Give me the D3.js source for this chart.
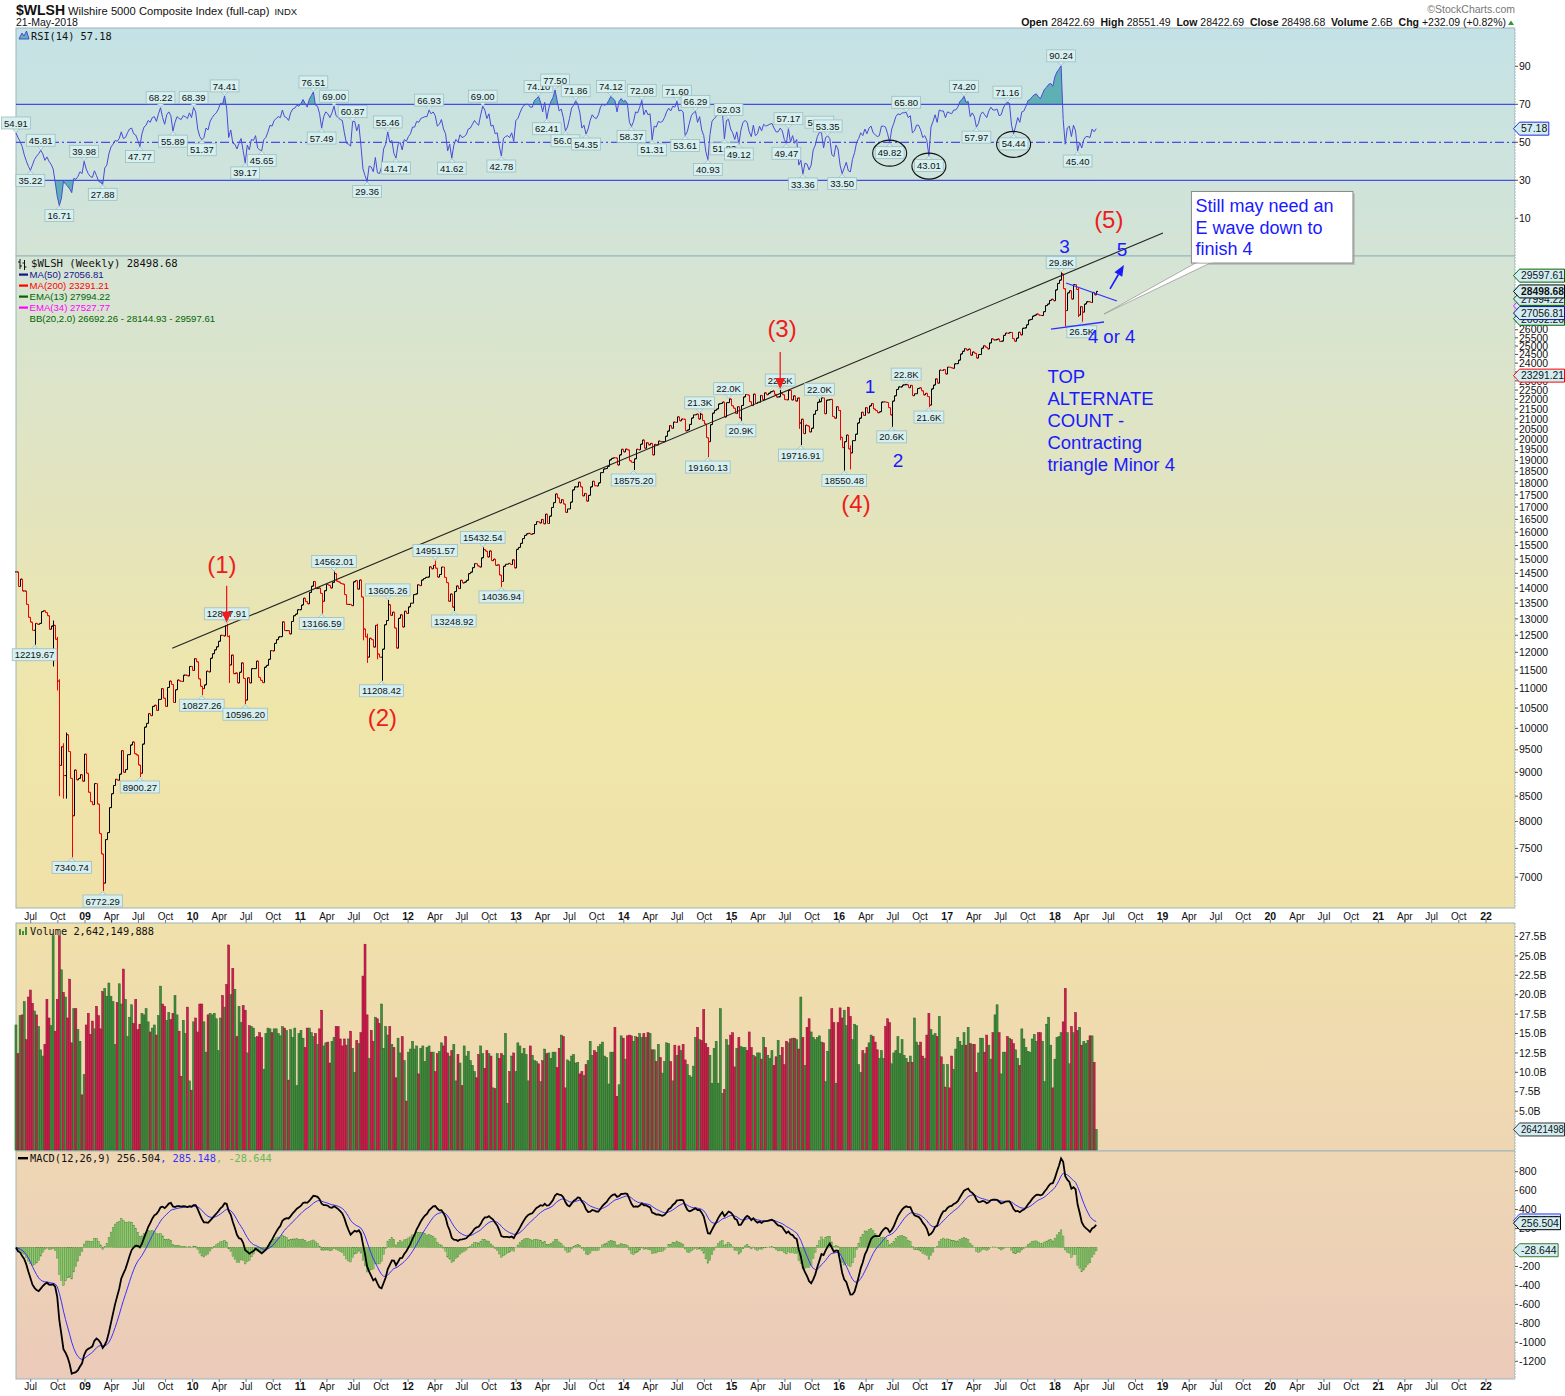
<!DOCTYPE html>
<html>
<head>
<meta charset="utf-8">
<script src="https://cdn.jsdelivr.net/npm/d3@7"></script>
<style>
  body { margin: 0; background: #fff; }
  svg { display: block; }
</style>
</head>
<body>
<svg id="chart"></svg>
<script>
// ---------- data (weekly, first bar = week of 12-May-2008) ----------
const startWeek = Date.UTC(2008, 4, 12);

// weekly closes, Wilshire 5000 full-cap
const closes = [
  14550, 14050, 14300, 13900, 13900, 13460, 13050, 12900, 12650, 12860,
  12830, 12860, 13230, 13260, 13200, 13100, 12680, 12780, 12800, 12380,
  11200, 9150, 9570, 8930, 9850, 9460, 8870, 8110, 9050, 8840,
  8870, 8950, 8810, 9400, 8980, 8580, 8390, 8330, 8760, 8340,
  7770, 7400, 6900, 7660, 7790, 8270, 8550, 8720, 8850, 8830,
  8960, 9480, 9000, 9060, 9390, 9610, 9680, 9410, 9380, 9160,
  8980, 9630, 10030, 10120, 10360, 10310, 10540, 10570, 10440, 10720,
  11000, 10750, 10540, 11030, 11200, 11110, 10640, 10970, 11230, 11200,
  11190, 11360, 11360, 11340, 11600, 11490, 11820, 11730, 11260, 11060,
  11000, 11100, 11470, 11450, 11830, 11960, 12070, 12160, 12320, 12500,
  12480, 12790, 12460, 11640, 11920, 11400, 11420, 11150, 11440, 11700,
  11270, 10700, 11290, 11150, 11540, 11540, 11750, 11300, 11220, 11160,
  11580, 11630, 11800, 12050, 12040, 12260, 12370, 12450, 12460, 12910,
  12640, 12640, 12540, 12920, 13100, 13150, 13290, 13290, 13440, 13660,
  13550, 13480, 13850, 14060, 14220, 13980, 14000, 13820, 13560, 13910,
  14120, 14090, 14000, 14190, 14490, 14230, 14200, 14150, 14130, 13780,
  13460, 13460, 13420, 14210, 14250, 13960, 14270, 13700, 12690, 12450,
  11860, 12410, 12370, 12150, 12800, 11950, 11860, 12090, 12820, 12950,
  13450, 13110, 13210, 12720, 12120, 13020, 13130, 12750, 13240, 13170,
  13380, 13500, 13780, 13800, 14110, 14080, 14270, 14320, 14360, 14370,
  14730, 14660, 14780, 14680, 14370, 14460, 14720, 14360, 14180, 13560,
  13800, 13370, 13880, 14070, 13980, 14260, 14170, 14200, 14260, 14490,
  14540, 14700, 14840, 14760, 14720, 15050, 15350, 15290, 15080, 15300,
  14950, 15000, 14780, 14800, 14440, 14220, 14750, 14820, 14850, 14810,
  14980, 14690, 15360, 15430, 15580, 15760, 15880, 15940, 15960, 15920,
  15950, 16300, 16410, 16360, 16500, 16330, 16710, 16340, 16630, 16980,
  17180, 17540, 17370, 17170, 17300, 17120, 16780, 16920, 17200, 17710,
  17840, 17840, 18040, 17840, 17460, 17560, 17240, 17480, 17840, 18080,
  17890, 17880, 18010, 18460, 18620, 18640, 18740, 19030, 19100, 19130,
  19120, 18800, 19260, 19520, 19400, 19530, 19490, 18990, 18920, 19080,
  19520, 19500, 19760, 19960, 19570, 19830, 19730, 19800, 19260, 19750,
  19720, 19910, 19880, 19880, 20140, 20390, 20660, 20530, 20840, 20820,
  21100, 20900, 20990, 20980, 20400, 20450, 20720, 21040, 21200, 21240,
  20990, 21230, 20910, 20740, 20070, 19880, 20710, 21290, 21430, 21500,
  21760, 21790, 21860, 21090, 21830, 22020, 21670, 21540, 21270, 21620,
  21040, 21680, 22130, 22260, 22230, 21880, 21680, 22280, 21790, 21850,
  22210, 21980, 22350, 22250, 22330, 22410, 22450, 22270, 22120, 22140,
  22330, 22250, 21990, 21980, 22480, 21970, 22190, 21910, 22070, 20790,
  20980, 20270, 20680, 20640, 20350, 20530, 21230, 21420, 21850, 21880,
  22080, 21260, 21960, 21980, 22000, 21120, 21030, 21620, 21420, 20090,
  19600, 19880, 20200, 19540, 19350, 19930, 20240, 20790, 21030, 21330,
  21170, 21570, 21300, 21660, 21780, 21500, 21420, 21310, 21360, 21860,
  21870, 21840, 21570, 21200, 21910, 22190, 22530, 22670, 22670, 22770,
  22790, 22790, 22630, 22750, 22200, 22300, 22580, 22620, 22460, 22240,
  22320, 22150, 21700, 22560, 22770, 23110, 22870, 23600, 23580, 23630,
  23380, 23770, 23740, 23700, 23960, 23970, 24170, 24530, 24690, 24850,
  24760, 24820, 24460, 24650, 24570, 24290, 24500, 24870, 25020, 24930,
  24830, 25190, 25440, 25370, 25380, 25430, 25280, 25300, 25650, 25790,
  25780, 25830, 25450, 25290, 25480, 25840, 25680, 26090, 26110, 26310,
  26610, 26650, 26860, 26920, 27000, 26930, 26900, 27150, 27550, 27650,
  27890, 27970, 27870, 28600, 29050, 29280, 29720, 28680, 27220, 28400,
  28550, 27980, 28970, 28630, 26930, 27480, 27120, 27650, 27800, 27810,
  27750, 28430, 28270, 28500
];

// weekly volume, billions of shares
const volumes = [
  16.1, 12.4, 17.3, 17.4, 19.1, 14.2, 19.7, 20.6, 18.9, 17.9,
  17.4, 15.9, 12.9, 12.1, 13.6, 19.4, 17.0, 16.0, 27.6, 15.3,
  19.4, 27.6, 23.2, 20.3, 19.7, 17.0, 22.0, 13.8, 18.2, 18.2,
  15.5, 14.0, 7.1, 9.7, 16.1, 17.6, 14.9, 16.6, 15.6, 18.5,
  17.3, 15.6, 20.4, 20.8, 19.8, 21.5, 19.8, 19.1, 13.6, 19.0,
  21.4, 18.8, 23.3, 19.4, 14.6, 17.1, 18.7, 16.3, 19.4, 15.5,
  16.2, 17.6, 17.4, 18.2, 16.5, 15.2, 15.7, 16.1, 14.8, 17.3,
  21.1, 18.8, 18.5, 16.7, 17.7, 16.8, 17.6, 19.9, 17.4, 15.3,
  9.5, 16.7, 15.0, 18.4, 8.9, 7.7, 16.5, 17.0, 15.2, 18.8,
  18.8, 16.5, 12.6, 17.4, 17.6, 17.4, 17.6, 16.9, 12.8, 17.0,
  19.9, 18.4, 21.3, 26.4, 20.0, 23.4, 20.7, 14.6, 18.5, 16.4,
  18.6, 18.0, 12.5, 16.0, 15.9, 15.7, 14.5, 14.6, 15.1, 14.5,
  10.4, 15.0, 15.7, 15.6, 15.1, 15.6, 15.6, 15.0, 14.7, 15.9,
  15.7, 15.4, 9.0, 15.5, 14.5, 15.7, 8.3, 15.0, 15.4, 14.4,
  13.2, 15.7, 15.7, 15.1, 14.6, 15.0, 13.6, 15.6, 18.0, 13.4,
  13.8, 13.9, 11.2, 14.0, 14.5, 15.9, 15.9, 14.3, 13.4, 14.3,
  13.5, 14.3, 15.3, 13.1, 10.0, 14.1, 13.7, 15.1, 22.4, 26.5,
  17.4, 11.8, 15.4, 14.0, 17.1, 16.9, 16.3, 18.8, 13.1, 15.9,
  14.8, 15.9, 13.6, 13.2, 9.3, 14.4, 12.5, 14.6, 11.5, 6.3,
  12.6, 13.0, 14.0, 13.0, 13.4, 9.8, 13.1, 13.4, 11.4, 13.2,
  13.4, 12.6, 12.6, 10.1, 12.4, 12.7, 13.8, 13.4, 14.6, 12.5,
  12.1, 12.8, 13.6, 8.9, 12.3, 11.2, 8.3, 13.4, 12.1, 12.7,
  11.5, 10.9, 10.1, 9.3, 12.3, 13.4, 12.4, 10.5, 12.8, 12.4,
  12.1, 8.0, 7.9, 12.4, 11.8, 12.4, 12.2, 15.0, 6.0, 10.1,
  12.1, 12.5, 10.1, 13.8, 13.4, 12.4, 13.1, 12.3, 8.9, 13.4,
  12.2, 11.5, 11.4, 11.1,
  8.8, 11.5, 13.0, 12.4, 12.5, 11.8, 12.6, 12.6, 10.6, 13.1,
  14.8, 14.6, 8.0, 11.6, 11.4, 12.1, 12.3, 11.2, 11.3, 9.8,
  10.1, 9.6, 11.0, 11.5, 14.0, 12.2, 12.8, 12.6, 13.3, 13.6,
  13.9, 12.1, 11.9, 8.5, 12.6, 12.6, 15.8, 6.9, 8.4, 14.7,
  14.4, 11.7, 14.7, 14.8, 14.7, 14.0, 14.6, 14.5, 15.0, 14.5,
  15.0, 14.5, 15.1, 15.0, 12.9, 12.9, 11.4, 13.6, 11.9, 9.9,
  11.4, 13.8, 13.7, 11.4, 8.9, 13.5, 12.2, 13.4, 12.8, 13.6,
  11.6, 11.0, 9.6, 9.4, 10.8, 14.5, 15.8, 14.2, 14.1, 18.1,
  13.7, 13.2, 12.2, 8.6, 13.1, 14.0, 8.6, 18.2, 7.3, 7.8,
  14.2, 13.5, 14.8, 15.1, 10.7, 13.1, 14.5, 13.3, 13.2, 13.2,
  12.8, 15.2, 13.2, 12.2, 12.0, 12.5, 12.5, 11.7, 14.5, 13.2,
  12.2, 11.8, 12.8, 10.9, 12.0, 14.1, 12.2, 13.2, 11.0, 14.0,
  13.8, 14.3, 14.4, 14.4, 14.2, 13.0, 19.7, 14.5, 10.9, 15.8,
  16.9, 15.2, 14.5, 14.2, 14.5, 14.7, 13.9, 13.8, 8.8, 12.7,
  15.5, 18.2, 16.4, 8.6, 16.4, 18.3, 17.0, 18.0, 16.0, 18.4,
  17.2, 14.2, 16.2, 16.0, 11.0, 10.0, 12.8, 12.4, 13.2, 13.8,
  14.8, 14.6, 13.9, 12.9, 11.8, 12.8, 11.8, 15.9, 16.9, 16.4,
  11.1, 12.5, 12.8, 14.6, 12.4, 14.2, 12.2, 11.8, 11.3, 12.1,
  11.3, 17.0, 13.9, 13.5, 13.9, 12.1, 11.8, 14.8, 17.6, 15.5,
  14.8, 15.0, 14.6, 17.2, 12.0, 11.0, 8.1, 11.0, 8.0, 12.1,
  10.4, 13.0, 14.5, 14.0, 13.5, 15.1, 13.5, 15.8, 13.7, 13.6,
  13.6, 10.0, 12.5, 14.4, 14.4, 12.6, 14.8, 13.5, 11.7, 15.1,
  17.4, 18.7, 15.1, 9.8, 12.6, 12.6, 14.6, 14.4, 14.2, 13.7,
  12.9, 11.8, 10.9, 15.6, 14.3, 13.2, 12.7, 12.6, 14.3, 14.9,
  14.0, 15.1, 15.1, 14.0, 8.8, 16.2, 17.1, 13.5, 8.0, 11.7,
  14.5, 14.6, 15.1, 16.5, 20.8, 15.1, 11.1, 15.9, 15.1, 17.7,
  15.4, 15.8, 13.5, 14.0, 13.7, 14.1, 14.7, 14.7, 11.3, 2.64
];

// weekly RSI(14)
const rsi = [
  54.91, 52.5, 50.4, 47.8, 43.5, 40.2, 37.4, 35.22, 38.1, 41.0,
  42.7, 44.0, 45.81, 43.9, 40.5, 42.3, 40.0, 38.4, 36.0, 29.0,
  21.5, 16.71, 20.5, 29.5, 28.0, 27.0, 25.5, 23.5, 31.0, 30.5,
  32.0, 34.5, 33.5, 39.98, 36.0, 33.5, 32.0, 31.5, 35.0, 32.5,
  29.5, 28.8, 27.88, 36.5, 38.0, 44.0, 47.5, 49.0, 51.0, 50.5,
  52.0, 55.5, 52.0, 52.5, 55.0, 57.0, 57.5, 54.5, 53.8, 51.0,
  47.77, 54.5, 58.0, 59.0, 61.5, 60.5, 63.0, 63.5, 61.0, 65.0,
  68.22, 63.0, 59.5, 64.5, 66.0, 64.0, 55.89, 60.5, 63.5, 62.5,
  62.0, 64.0, 63.5, 62.5, 65.5, 63.0, 68.39, 66.0, 57.0, 53.0,
  51.37, 52.5, 57.5, 56.5, 61.0, 63.0, 64.5, 65.5, 67.5, 70.5,
  70.0, 74.41, 68.0, 52.5, 56.5, 49.5, 49.0, 46.5, 49.5, 52.0,
  45.5, 39.17, 48.5, 46.0, 51.5, 51.0, 53.5, 47.0, 46.0, 45.65,
  51.5, 52.5, 55.5, 59.0, 58.5, 61.5, 62.5, 63.5, 63.0, 67.0,
  63.5, 63.0, 61.5, 65.5, 67.5, 68.0, 69.5, 69.0, 70.5, 72.5,
  70.5, 68.5, 72.5, 74.5, 76.51, 69.5, 69.0, 65.0, 57.49, 63.5,
  66.0, 65.0, 63.0, 65.5, 69.00, 64.0, 63.0, 62.0, 61.5, 55.0,
  49.5, 49.0, 48.0, 60.87, 61.0, 56.0, 59.5, 48.5, 36.0, 32.5,
  29.36, 37.5, 37.0, 34.5, 42.0, 34.0, 33.5, 37.0, 46.5, 49.0,
  55.46, 50.0, 51.0, 44.0, 41.74, 49.0, 50.0, 46.0, 51.5, 50.5,
  53.0, 54.5, 58.0, 58.0, 61.0, 60.5, 62.5, 63.0, 63.5, 63.5,
  66.93, 65.0, 66.0, 64.0, 58.5, 59.5, 62.0, 57.0, 54.5, 45.5,
  49.0, 41.62, 48.5, 51.5, 50.0, 54.0, 52.5, 53.0, 54.0, 57.0,
  57.5, 59.5, 61.5, 60.0, 59.0, 64.5, 69.00, 67.0, 62.5, 65.0,
  58.5, 59.0, 54.5, 55.0, 48.0, 42.78, 52.0, 53.0, 53.5, 52.5,
  55.0, 50.5, 61.5, 62.5, 65.5, 68.0, 69.5, 70.0, 70.0, 68.5,
  68.5, 72.0, 73.0, 74.10, 71.0, 66.0, 71.0, 62.41, 68.0, 71.5,
  73.5, 77.50, 72.0, 66.5, 67.5, 63.0, 56.07, 58.0, 62.5, 68.0,
  69.5, 71.86, 70.0, 65.5, 57.5, 59.0, 54.35, 57.0, 61.5, 64.5,
  63.0, 62.5, 64.5, 68.5, 70.0, 69.5, 70.0, 72.0, 74.12, 73.0,
  72.0, 66.0, 71.5, 73.0, 71.5, 72.0, 70.5, 60.5, 58.37, 61.0,
  66.0, 65.5, 68.5, 72.08, 64.5, 67.0, 64.5, 65.0, 51.31, 58.5,
  58.0, 61.0, 60.5, 61.0, 63.0, 66.0, 68.0, 66.5, 69.0, 68.5,
  71.60, 66.5, 67.0, 66.0, 53.61, 55.5, 60.0, 64.0, 65.5, 66.29,
  60.5, 63.5, 56.5, 53.5, 45.0, 40.93, 54.0, 61.0, 62.5, 63.5,
  65.0, 65.0, 66.0, 51.83, 61.5, 62.03, 57.0, 55.0, 51.5, 55.5,
  49.12, 56.5, 60.5, 61.5, 60.5, 55.5, 53.0, 59.0, 53.5, 54.5,
  58.5, 56.0, 59.5, 58.5, 59.0, 59.5, 60.0, 57.5, 55.5, 55.5,
  57.5, 56.0, 51.5, 49.47, 57.17, 50.0, 53.5, 49.5, 51.5, 38.0,
  40.5, 33.36, 39.0, 38.5, 35.5, 38.0, 46.0, 48.5, 53.0, 55.31,
  55.0, 47.0, 52.5, 53.35, 52.0, 43.5, 42.5, 48.5, 46.5, 38.0,
  33.50, 36.5, 39.5, 35.0, 34.5, 41.0, 44.5, 50.0, 52.0, 55.0,
  53.5, 57.0, 54.5, 57.5, 58.5, 55.0, 54.0, 53.0, 53.5, 58.5,
  58.5, 58.0, 54.5, 49.82, 57.0, 60.0, 63.5, 65.0, 64.5, 65.5,
  65.5, 65.80, 63.0, 64.0, 55.0, 56.0, 59.0, 59.0, 56.5, 52.5,
  53.5, 51.0, 43.01, 58.0, 61.0, 64.5, 60.5, 67.0, 66.5, 66.5,
  63.0, 66.0, 65.5, 65.0, 67.0, 67.0, 68.5, 71.5, 72.5, 74.20,
  71.0, 71.5, 63.5, 65.5, 63.5, 57.97, 60.0, 64.5, 66.0, 64.5,
  63.0, 66.5, 68.5, 67.0, 67.0, 67.5, 64.0, 64.5, 68.0, 70.0,
  71.16, 70.5, 59.0, 54.44, 58.5, 63.0, 60.5, 66.0, 66.5, 69.0,
  72.0, 72.5, 74.0, 75.0, 75.5, 74.0, 73.0, 75.5, 78.0, 79.0,
  80.5, 81.0, 79.5, 84.5, 87.0, 88.5, 90.24, 62.0, 49.0, 57.5,
  58.5, 53.0, 59.0, 56.0, 45.40, 50.0, 47.0, 51.5, 53.0, 53.0,
  52.5, 57.0, 55.5, 57.18
];

// labelled price extremes: [week, value, side, text]
const pricePivots = [
  [9, 12219.67, "L"], [27, 7340.74, "L"], [42, 6772.29, "L"], [60, 8900.27, "L"],
  [90, 10827.26, "L"], [102, 12847.91, "H"], [111, 10596.20, "L"], [148, 13166.59, "L"],
  [154, 14562.01, "H"], [177, 11208.42, "L"], [180, 13605.26, "H"], [203, 14951.57, "H"],
  [212, 13248.92, "L"], [226, 15432.54, "H"], [235, 14036.94, "L"], [299, 18575.20, "L"],
  [331, 21300, "H", "21.3K"], [335, 19160.13, "L"], [345, 22040, "H", "22.0K"],
  [351, 20900, "L", "20.9K"], [370, 22500, "H", "22.5K"], [380, 19716.91, "L"],
  [389, 22010, "H", "22.0K"], [401, 18550.48, "L"], [424, 20600, "L", "20.6K"],
  [431, 22820, "H", "22.8K"], [442, 21600, "L", "21.6K"], [506, 29830, "H", "29.8K"],
  [516, 26500, "L", "26.5K"]
];
// other long weekly ranges: [week, low, high]
const wicks = [
  [18, 11600, 12950], [20, 10950, 12450], [21, 8500, 11250], [23, 8450, 9650],
  [24, 8450, 9900], [103, 11150, 12500], [168, 12350, 13700], [170, 11700, 12550],
  [175, 11800, 12850], [379, 20500, 22100], [399, 19950, 21450], [404, 18600, 19700],
  [508, 26200, 28700], [514, 26800, 28750]
];

// labelled RSI extremes: [week, side]
const rsiPivots = [
  [0, "H"], [7, "L"], [12, "H"], [21, "L"], [33, "H"], [42, "L"], [60, "L"], [70, "H"],
  [76, "L"], [86, "H"], [90, "L"], [101, "H"], [111, "L"], [119, "L"], [144, "H"],
  [148, "L"], [154, "H"], [163, "H"], [170, "L"], [180, "H"], [184, "L"], [200, "H"],
  [211, "L"], [226, "H"], [235, "L"], [253, "H"], [257, "L"], [261, "H"], [266, "L"],
  [271, "H"], [276, "L"], [288, "H"], [298, "L"], [303, "H"], [308, "L"], [320, "H"],
  [324, "L"], [329, "H"], [335, "L"], [343, "L"], [345, "H"], [350, "L"], [373, "L"],
  [374, "H"], [381, "L"], [389, "H"], [393, "H"], [400, "L"], [423, "L"], [431, "H"],
  [442, "L"], [459, "H"], [465, "L"], [480, "H"], [483, "L"], [506, "H"], [514, "L"]
];
const rsiCircled = [423, 442, 483];

// axis tick labels
const rsiTicks = [10, 30, 50, 70, 90];
const priceTicks = d3.range(7000, 30001, 500);
const volTicks = [2.5, 5, 7.5, 10, 12.5, 15, 17.5, 20, 22.5, 25, 27.5];
const macdTicks = [-1200, -1000, -800, -600, -400, -200, 0, 200, 400, 600, 800];

// right-edge value tags
const rsiTags = [[57.18, "57.18", "#2828e6"]];
const priceTags = [
  [27527.77, "27527.77", "#ff00ff"], [27994.22, "27994.22", "#006400"],
  [26692.26, "26692.26", "#006400"], [27056.81, "27056.81", "#14148c"],
  [29597.61, "29597.61", "#006400"], [28498.68, "28498.68", "#000", true],
  [23291.21, "23291.21", "#ff0000"]
];
const volTags = [[2.642, "26421498", "#333"]];
const macdTags = [[285.148, "285.148", "#3a30ff"], [256.504, "256.504", "#000"], [-28.644, "-28.644", "#3d7a2b"]];

// annotations in [week, price]
const trendLine = [[75.67, 12115], [555.3, 32782]];
const triUpper = [[508.4, 29080], [533.0, 27852]];
const triLower = [[501.1, 26040], [526.8, 26484]];
const blueArrow = [[529.7, 28676], [536.4, 30363]];
const redArrows = [102, 370];
const waveLabels = [
  [99.7, 14513, "(1)", "r"], [177.4, 10069, "(2)", "r"], [370.9, 25548, "(3)", "r"],
  [406.7, 16797, "(4)", "r"], [529.1, 33138, "(5)", "r"],
  [413.5, 22341, "1", "b"], [427, 18710, "2", "b"], [507.7, 31270, "3", "b"], [535.5, 31024, "5", "b"]
];
const fourNote = [519, 25185, "4 or 4"];
const countNote = [499.4, 22899, ["TOP", "ALTERNATE", "COUNT -", "Contracting", "triangle Minor 4"]];
const callout = { from: [569.1, 36213], to: [647.3, 30508], tip: [526.8, 26997],
                  lines: ["Still may need an", "E wave down to", "finish 4"] };

// ---------- layout ----------
const W = 1565, H = 1396;
const L = 16, R = 1515;
const P = { rsi: [28, 256], price: [256, 908], vol: [923, 1151], macd: [1151, 1379] };
const SANS = "'Liberation Sans', Arial, sans-serif";
const MONO = "'DejaVu Sans Mono', monospace";
const RED = "#ee1c1c", BLUE = "#1a1aff";

const svg = d3.select("#chart").attr("width", W).attr("height", H)
  .attr("font-family", SANS);
svg.append("rect").attr("width", W).attr("height", H).attr("fill", "#fff");

const x = d3.scaleUtc()
  .domain([new Date(Date.UTC(2009, 0, 1)), new Date(Date.UTC(2022, 0, 1))])
  .range([85, 1486]);
const wk = i => new Date(startWeek + i * 7 * 864e5);
const xi = i => x(wk(i));

const yR = d3.scaleLinear().domain([-9.84, 110.16]).range([256, 28]);
const yP = d3.scaleLog().domain([6501.6, 31024]).range([908, 256]);
const yV = d3.scaleLinear().domain([0, 29.23]).range([1150, 923]);
const yM = d3.scaleLinear().domain([-1387, 1018]).range([1379, 1151]);
const pt = ([i, p]) => [xi(i), yP(p)];

// background gradient
const defs = svg.append("defs");
const grad = defs.append("linearGradient").attr("id", "bg")
  .attr("gradientUnits", "userSpaceOnUse")
  .attr("x1", 0).attr("x2", 0).attr("y1", 28).attr("y2", 1379);
[[0, "#c4e2e6"], [0.169, "#d4e4d5"], [0.35, "#e3e4be"], [0.5, "#efe6aa"],
 [0.65, "#f0e1a9"], [0.76, "#efdab0"], [0.9, "#edd2b6"], [1, "#ebcab9"]]
  .forEach(([o, c]) => grad.append("stop").attr("offset", o).attr("stop-color", c));

Object.values(P).forEach(([t, b]) => {
  svg.append("rect").attr("x", L).attr("y", t).attr("width", R - L).attr("height", b - t)
    .attr("fill", "url(#bg)").attr("stroke", "#9bb4ba");
});
svg.append("line").attr("x1", R + 0.5).attr("x2", R + 0.5).attr("y1", 28).attr("y2", 1379)
  .attr("stroke", "#fff").attr("stroke-dasharray", "1,2");

// ---------- header ----------
const head = svg.append("text").attr("x", 16).attr("y", 15).attr("fill", "#111");
head.append("tspan").attr("font-weight", "bold").attr("font-size", 14).text("$WLSH");
head.append("tspan").attr("font-size", 11.2).attr("dx", 3).text("Wilshire 5000 Composite Index (full-cap)");
head.append("tspan").attr("font-size", 9.5).attr("dx", 5).text("INDX");
svg.append("text").attr("x", 16).attr("y", 26).attr("font-size", 10.5).attr("fill", "#111").text("21-May-2018");
svg.append("text").attr("x", 1515).attr("y", 13).attr("text-anchor", "end")
  .attr("font-size", 10.5).attr("fill", "#777").text("\u00A9StockCharts.com");

const quote = svg.append("text").attr("x", 1506).attr("y", 26).attr("text-anchor", "end")
  .attr("font-size", 10.5).attr("fill", "#111").style("white-space", "pre");
[["Open", 1], [" 28422.69  ", 0], ["High", 1], [" 28551.49  ", 0], ["Low", 1], [" 28422.69  ", 0],
 ["Close", 1], [" 28498.68  ", 0], ["Volume", 1], [" 2.6B  ", 0], ["Chg", 1], [" +232.09 (+0.82%)", 0]]
  .forEach(([t, b]) => quote.append("tspan").attr("font-weight", b ? "bold" : null).text(t));
svg.append("path").attr("d", "M1508,25L1511,20.5L1514,25Z").attr("fill", "#2e9a2e");

// ---------- helpers ----------
function pointerLabel(g, px, py, text, side) {
  const up = side === "H";
  const top = up ? py - 16 : py + 4;
  const lab = g.append("g");
  lab.append("path")
    .attr("d", up
      ? `M${px - 4},${py - 4.5}L${px},${py - 0.5}L${px + 4},${py - 4.5}Z`
      : `M${px - 4},${py + 4.5}L${px},${py + 0.5}L${px + 4},${py + 4.5}Z`)
    .attr("fill", "#d6f0f0").attr("stroke", "#9fbcc0").attr("stroke-width", 0.8);
  const box = lab.append("rect");
  const t = lab.append("text").attr("x", px).attr("y", top + 9.6).attr("text-anchor", "middle")
    .attr("font-size", 9.5).attr("fill", "#111").text(text);
  const w = t.node().getComputedTextLength() + 5;
  box.attr("x", px - w / 2).attr("y", top).attr("width", w).attr("height", 12)
    .attr("fill", "#d6f0f0").attr("stroke", "#9fbcc0").attr("stroke-width", 0.8);
}

function valueTag(y, text, stroke, bold) {
  const g = svg.append("g");
  const t = g.append("text").attr("x", 1521).attr("y", y + 3.8).attr("font-size", 10.5)
    .attr("font-weight", bold ? "bold" : null).attr("fill", "#111").text(text);
  let w = t.node().getComputedTextLength();
  if (1521 + w > W - 1) {            // squeeze so it stays on the canvas
    t.attr("textLength", W - 1522).attr("lengthAdjust", "spacingAndGlyphs");
    w = W - 1522;
  }
  g.insert("path", "text")
    .attr("d", `M1513.5,${y}L1519.5,${y - 6.5}H${Math.min(1519.5 + w + 3, W - 0.5)}V${y + 6.5}H1519.5Z`)
    .attr("fill", "#d2eef2").attr("stroke", stroke).attr("stroke-width", 1);
}

// labels that would sit fully under a value tag are left out, as in the original
function rightAxis(ticks, scale, fmt, minGap, tags) {
  const tagY = tags.map(t => scale(t[0]));
  let last = Infinity;
  ticks.forEach(v => {
    const y = scale(v);
    if (last - y < minGap) return;
    last = y;
    svg.append("line").attr("x1", R).attr("x2", R + 3).attr("y1", y).attr("y2", y).attr("stroke", "#555");
    if (tagY.some(ty => Math.abs(ty - y) < 4.2)) return;
    svg.append("text").attr("x", R + 4).attr("y", y + 3.7).attr("font-size", 10.5)
      .attr("fill", "#111").text(fmt(v));
  });
}

// ---------- RSI panel ----------
const rsiLine = d3.line().x((d, i) => xi(i)).y(d => yR(d));
const rsiArea = lvl => d3.area().x((d, i) => xi(i)).y0(yR(lvl)).y1(d => yR(d));
defs.append("clipPath").attr("id", "ob").append("rect")
  .attr("x", L).attr("y", 28).attr("width", R - L).attr("height", yR(70) - 28);
defs.append("clipPath").attr("id", "os").append("rect")
  .attr("x", L).attr("y", yR(30)).attr("width", R - L).attr("height", 256 - yR(30));
svg.append("path").datum(rsi).attr("d", rsiArea(70)).attr("clip-path", "url(#ob)").attr("fill", "#5eb0b4");
svg.append("path").datum(rsi).attr("d", rsiArea(30)).attr("clip-path", "url(#os)").attr("fill", "#5eb0b4");

[30, 70].forEach(v => svg.append("line").attr("x1", L).attr("x2", R).attr("y1", yR(v)).attr("y2", yR(v))
  .attr("stroke", "#2828e6").attr("stroke-width", 1));
svg.append("line").attr("x1", L).attr("x2", R).attr("y1", yR(50)).attr("y2", yR(50))
  .attr("stroke", "#2828e6").attr("stroke-dasharray", "9,3,2,3");
svg.append("path").datum(rsi).attr("d", rsiLine).attr("fill", "none")
  .attr("stroke", "#4a4ad8").attr("stroke-width", 1);

rightAxis(rsiTicks, yR, d => d, 5, rsiTags);

const rsiLabels = svg.append("g");
rsiPivots.forEach(([i, side]) => pointerLabel(rsiLabels, xi(i), yR(rsi[i]), rsi[i].toFixed(2), side));
rsiCircled.forEach(i => {
  svg.append("ellipse").attr("cx", xi(i)).attr("cy", yR(rsi[i]) + 10.5)
    .attr("rx", 17).attr("ry", 13).attr("fill", "none").attr("stroke", "#111").attr("stroke-width", 1.1);
});

svg.append("path").attr("d", "M19,39L22,33L24,36L26.5,31L29,39Z").attr("fill", "#5eb0b4").attr("stroke", "#4a4ad8");
svg.append("text").attr("x", 31).attr("y", 39.5).attr("font-family", MONO).attr("font-size", 10.3)
  .attr("fill", "#111").text("RSI(14) 57.18");
rsiTags.forEach(([v, t, c, b]) => valueTag(yR(v), t, c, b));

// ---------- price panel ----------
const bars = closes.map((c, i) => {
  const o = i ? closes[i - 1] : c;
  return { i, o, c, hi: Math.max(o, c), lo: Math.min(o, c), up: c >= o };
});
pricePivots.forEach(([i, v, side]) => {
  if (side === "H") bars[i].hi = Math.max(bars[i].hi, v);
  else bars[i].lo = Math.min(bars[i].lo, v);
});
wicks.forEach(([i, lo, hi]) => {
  bars[i].lo = Math.min(bars[i].lo, lo);
  bars[i].hi = Math.max(bars[i].hi, hi);
});

const barPath = b => {
  const px = Math.round(xi(b.i)) + 0.5;
  return `M${px},${yP(b.hi)}V${yP(b.lo)}M${px - 1.5},${yP(b.o)}H${px}M${px},${yP(b.c)}H${px + 1.5}`;
};
svg.append("path").attr("d", bars.filter(b => b.up).map(barPath).join(""))
  .attr("stroke", "#000").attr("fill", "none").attr("stroke-width", 1);
svg.append("path").attr("d", bars.filter(b => !b.up).map(barPath).join(""))
  .attr("stroke", "#f00000").attr("fill", "none").attr("stroke-width", 1);

rightAxis(priceTicks, yP, d => d, 7.9, priceTags);

svg.append("line")
  .attr("x1", pt(trendLine[0])[0]).attr("y1", pt(trendLine[0])[1])
  .attr("x2", pt(trendLine[1])[0]).attr("y2", pt(trendLine[1])[1])
  .attr("stroke", "#222").attr("stroke-width", 1.1);

const priceLabels = svg.append("g");
pricePivots.forEach(([i, v, side, text]) =>
  pointerLabel(priceLabels, xi(i), yP(v), text || v.toFixed(2), side));

// red wave arrows above the marked tops
redArrows.forEach(i => {
  const px = xi(i), tip = yP(bars[i].hi) - 1;
  svg.append("line").attr("x1", px).attr("x2", px).attr("y1", tip - 37).attr("y2", tip - 10)
    .attr("stroke", RED).attr("stroke-width", 1.3);
  svg.append("path").attr("d", `M${px - 5},${tip - 11}L${px + 5},${tip - 11}L${px},${tip}Z`).attr("fill", RED);
});

waveLabels.forEach(([i, p, text, c]) => {
  const [px, py] = pt([i, p]);
  svg.append("text").attr("x", px).attr("y", py).attr("text-anchor", "middle")
    .attr("font-size", c === "r" ? 24 : 19).attr("fill", c === "r" ? RED : BLUE).text(text);
});

// contracting triangle and arrow
[triUpper, triLower].forEach(seg => {
  svg.append("line").attr("x1", pt(seg[0])[0]).attr("y1", pt(seg[0])[1])
    .attr("x2", pt(seg[1])[0]).attr("y2", pt(seg[1])[1])
    .attr("stroke", "#2f2fff").attr("stroke-width", 1.3);
});
{
  const [x0, y0] = pt(blueArrow[0]), [x1, y1] = pt(blueArrow[1]);
  const len = Math.hypot(x1 - x0, y1 - y0), ux = (x1 - x0) / len, uy = (y1 - y0) / len;
  const bx = x1 - 11 * ux, by = y1 - 11 * uy;
  svg.append("line").attr("x1", x0).attr("y1", y0).attr("x2", bx).attr("y2", by)
    .attr("stroke", BLUE).attr("stroke-width", 1.6);
  svg.append("path")
    .attr("d", `M${x1},${y1}L${bx - 4.5 * uy},${by + 4.5 * ux}L${bx + 4.5 * uy},${by - 4.5 * ux}Z`)
    .attr("fill", BLUE);
}

{
  const [px, py] = pt([fourNote[0], fourNote[1]]);
  svg.append("text").attr("x", px).attr("y", py).attr("font-size", 18.5).attr("fill", BLUE).text(fourNote[2]);
}
{
  const [px, py] = pt([countNote[0], countNote[1]]);
  countNote[2].forEach((t, k) => svg.append("text").attr("x", px).attr("y", py + k * 22.2)
    .attr("font-size", 18.5).attr("fill", BLUE).text(t));
}

// callout box
{
  const [bx0, by0] = pt(callout.from), [bx1, by1] = pt(callout.to), [tx, ty] = pt(callout.tip);
  svg.append("rect").attr("x", bx0 + 2).attr("y", by0 + 2).attr("width", bx1 - bx0).attr("height", by1 - by0)
    .attr("fill", "#999").attr("opacity", 0.45);
  svg.append("path").attr("d", `M${bx0 + 6},${by1 - 1}L${bx0 + 21},${by1 - 1}L${tx},${ty}Z`)
    .attr("fill", "#fff").attr("stroke", "#9a9a9a").attr("stroke-width", 0.8);
  svg.append("rect").attr("x", bx0).attr("y", by0).attr("width", bx1 - bx0).attr("height", by1 - by0)
    .attr("fill", "#fff").attr("stroke", "#8a8a8a").attr("stroke-width", 1);
  svg.append("path").attr("d", `M${bx0 + 6.5},${by1 - 1.5}L${bx0 + 20.5},${by1 - 1.5}`).attr("stroke", "#fff").attr("stroke-width", 2);
  callout.lines.forEach((t, k) => svg.append("text").attr("x", bx0 + 4).attr("y", by0 + 20.8 + k * 21.6)
    .attr("font-size", 18).attr("fill", BLUE).text(t));
}

// price legend
svg.append("path").attr("d", "M20,259V269M18,262H20M20,266H22M24.5,260V270M22.5,263H24.5M24.5,267H26.5")
  .attr("stroke", "#111").attr("fill", "none");
svg.append("text").attr("x", 31).attr("y", 267).attr("font-family", MONO).attr("font-size", 10.6)
  .attr("fill", "#111").text("$WLSH (Weekly) 28498.68");
[["MA(50) 27056.81", "#14148c", true], ["MA(200) 23291.21", "#ff0000", true],
 ["EMA(13) 27994.22", "#006400", true], ["EMA(34) 27527.77", "#ff00ff", true],
 ["BB(20,2.0) 26692.26 - 28144.93 - 29597.61", "#006400", false]]
  .forEach(([t, c, dash], k) => {
    const y = 278 + k * 11;
    if (dash) svg.append("rect").attr("x", 19).attr("y", y - 4.5).attr("width", 9).attr("height", 2.2).attr("fill", c);
    svg.append("text").attr("x", 29.5).attr("y", y).attr("font-size", 9.6).attr("fill", c).text(t);
  });

priceTags.forEach(([v, t, c, b]) => valueTag(yP(v), t, c, b));

// ---------- time axis ----------
const quarters = d3.utcMonth.every(3).range(new Date(Date.UTC(2008, 6, 1)), new Date(Date.UTC(2022, 1, 1)));
[[920, 923], [1390, 1379]].forEach(([base, tickY]) => {
  quarters.forEach(d => {
    const px = x(d), yr = d.getUTCMonth() === 0;
    svg.append("line").attr("x1", px).attr("x2", px).attr("y1", tickY).attr("y2", tickY === 923 ? 920 : 1382)
      .attr("stroke", "#778");
    svg.append("text").attr("x", px).attr("y", base).attr("text-anchor", "middle")
      .attr("font-size", yr ? 10.5 : 10).attr("font-weight", yr ? "bold" : null).attr("fill", "#111")
      .text(yr ? d3.utcFormat("%y")(d) : d3.utcFormat("%b")(d));
  });
});

// ---------- volume panel ----------
svg.append("g").selectAll("rect").data(volumes).join("rect")
  .attr("x", (d, i) => xi(i) - 1).attr("width", 2)
  .attr("y", d => yV(d)).attr("height", d => yV(0) - yV(d))
  .attr("fill", (d, i) => bars[i].up ? "#3f8f3c" : "#cf1f4e")
  .attr("stroke", (d, i) => bars[i].up ? "#2a5f28" : "#8a1030").attr("stroke-width", 0.5);

rightAxis(volTicks, yV, d => d.toFixed(1) + "B", 5, volTags);
svg.append("g").selectAll("rect").data([6, 4, 8]).join("rect")
  .attr("x", (d, k) => 19 + k * 3).attr("y", d => 935 - d).attr("width", 2).attr("height", d => d)
  .attr("fill", "#3f8f3c");
svg.append("text").attr("x", 30).attr("y", 934.5).attr("font-family", MONO).attr("font-size", 10.3)
  .attr("fill", "#111").text("Volume 2,642,149,888");
volTags.forEach(([v, t, c, b]) => valueTag(yV(v), t, c, b));

// ---------- MACD panel ----------
const ema = (arr, n) => {
  const k = 2 / (n + 1);
  let e;
  return arr.map((v, i) => (e = i ? v * k + e * (1 - k) : v));
};
const e12 = ema(closes, 12), e26 = ema(closes, 26);
const macd = closes.map((c, i) => e12[i] - e26[i]);
const signal = ema(macd, 9);
const hist = macd.map((m, i) => m - signal[i]);

svg.append("g").selectAll("rect").data(hist).join("rect")
  .attr("x", (d, i) => xi(i) - 0.8).attr("width", 1.6)
  .attr("y", d => yM(Math.max(d, 0))).attr("height", d => Math.abs(yM(d) - yM(0)))
  .attr("fill", "#8ccb6c").attr("stroke", "#4f8d3d").attr("stroke-width", 0.45);
const mLine = d3.line().x((d, i) => xi(i)).y(d => yM(d));
svg.append("path").datum(signal).attr("d", mLine).attr("fill", "none").attr("stroke", "#3a30ff").attr("stroke-width", 1);
svg.append("path").datum(macd).attr("d", mLine).attr("fill", "none").attr("stroke", "#000").attr("stroke-width", 1.8);

rightAxis(macdTicks, yM, d => d, 5, macdTags);
svg.append("rect").attr("x", 18).attr("y", 1157).attr("width", 10).attr("height", 2.4).attr("fill", "#000");
const ml = svg.append("text").attr("x", 30).attr("y", 1161.5).attr("font-family", MONO).attr("font-size", 10.3);
ml.append("tspan").attr("fill", "#111").text("MACD(12,26,9) 256.504");
ml.append("tspan").attr("fill", "#3333ff").text(", 285.148");
ml.append("tspan").attr("fill", "#66bb55").text(", -28.644");
macdTags.forEach(([v, t, c, b]) => valueTag(yM(v), t, c, b));
</script>
</body>
</html>
